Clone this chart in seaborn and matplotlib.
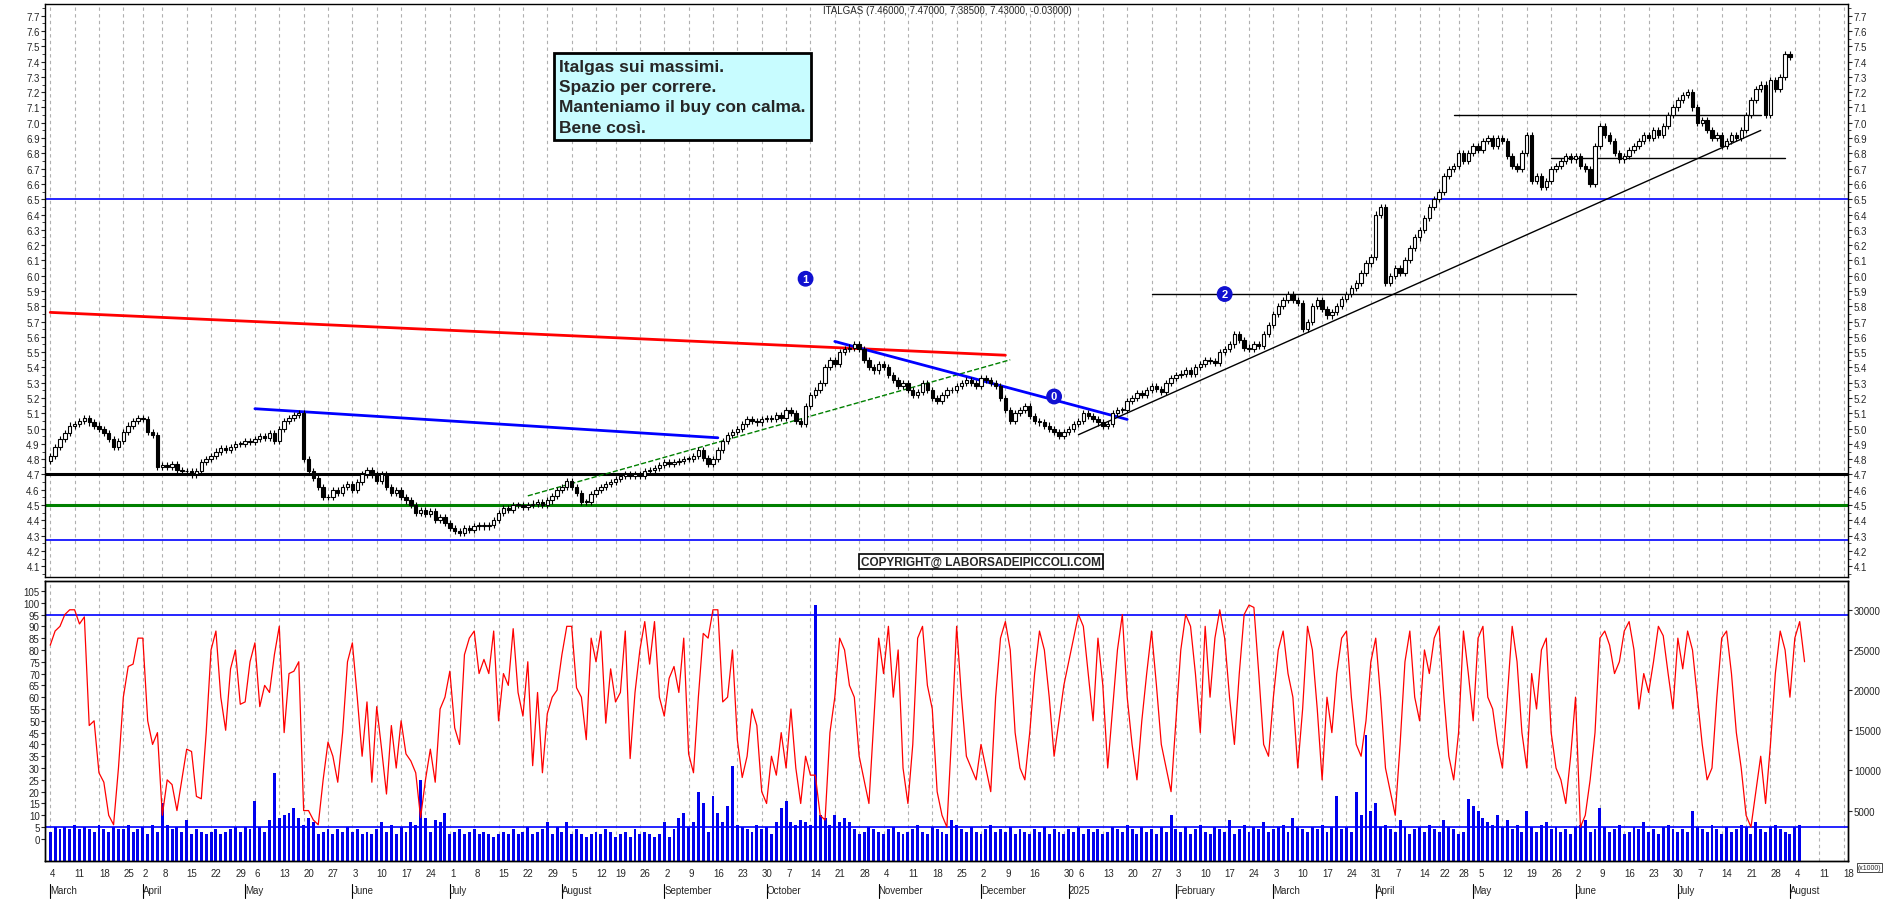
import numpy as np
import pandas as pd
import matplotlib
matplotlib.use("Agg")
import matplotlib.pyplot as plt
import seaborn as sns

# ---------------- data ----------------
close = [
 4.82,4.88,4.93,4.97,5.02, 5.03,5.05,5.07,5.04,5.02, 5.00,4.97,4.93,4.88,4.92, 4.98,5.02,5.05,5.07,5.06,
 4.98,4.96,4.75,4.76, 4.75,4.77,4.73,4.72,4.72, 4.70,4.72,4.78,4.80,4.82, 4.85,4.87,4.86,4.88,4.90,
 4.90,4.92,4.91,4.93,4.95, 4.94,4.97,4.92,5.00,5.05, 5.07,5.09,5.10,4.80,4.72, 4.68,4.62,4.55,4.55,4.60,
 4.58,4.62,4.64,4.60,4.65, 4.70,4.73,4.70,4.66,4.70, 4.62,4.58,4.60,4.55,4.53, 4.50,4.45,4.47,4.44,4.46,
 4.40,4.42,4.38,4.35,4.33, 4.32,4.35,4.34,4.36,4.37, 4.36,4.37,4.40,4.45,4.48, 4.47,4.50,4.50,4.49,4.50,
 4.51,4.52,4.50,4.53,4.56, 4.60,4.62,4.66,4.62,4.58, 4.52,4.52,4.57,4.60,4.62, 4.64,4.65,4.67,4.69,4.70,
 4.69,4.70,4.69,4.72,4.73, 4.74,4.76,4.78,4.77,4.78, 4.79,4.80,4.80,4.82,4.86, 4.81,4.77,4.80,4.86,4.92,
 4.96,4.98,5.00,5.03,5.06, 5.05,5.04,5.06,5.07,5.06, 5.09,5.07,5.12,5.10,5.05, 5.03,5.15,5.22,5.25,5.30,
 5.40,5.45,5.42,5.50,5.52, 5.53,5.55,5.52,5.45,5.40, 5.38,5.42,5.40,5.35,5.32, 5.28,5.30,5.25,5.22,5.24,
 5.30,5.25,5.20,5.18,5.22, 5.25,5.25,5.28,5.30,5.32, 5.30,5.28,5.33,5.32,5.30, 5.28,5.20,5.12,5.05,5.10,
 5.12,5.15,5.08,5.05,5.04, 5.02,5.00,4.98,4.95,4.98, 5.00,5.03,5.05,5.10,5.08, 5.06,5.04,5.02,
 5.03,5.10,5.12,5.12,5.18, 5.20,5.23,5.22,5.25,5.28, 5.26,5.24,5.30,5.33,5.35, 5.36,5.38,5.36,5.40,5.42,
 5.45,5.44,5.43,5.50,5.52, 5.55,5.62,5.58,5.53,5.52, 5.55,5.54,5.62, 5.68,5.75,5.80,5.84,5.88,
 5.84,5.82,5.65,5.70,5.80, 5.84,5.78,5.74,5.76,5.80, 5.85,5.88,5.92,5.95,6.02, 6.08,6.12,6.40,6.45,5.95,
 6.00,6.05,6.02,6.10,6.18, 6.25,6.30,6.38,6.45,6.50, 6.55,6.65,6.70,6.72,6.80, 6.75,6.80,6.85,6.82,6.88,
 6.90,6.85,6.90,6.88,6.78, 6.72,6.70,6.80,6.92,6.62, 6.65,6.58,6.62,6.70,6.72, 6.75,6.78,6.76,6.78,6.72,
 6.70,6.60,6.85,6.98,6.92, 6.88,6.80,6.76,6.78,6.82, 6.85,6.88,6.92,6.90,6.95, 6.92,6.98,7.05,7.10,7.15,
 7.18,7.20,7.10,7.00,7.02, 6.95,6.90,6.92,6.85,6.88, 6.92,6.90,6.95,7.05,7.15, 7.22,7.25,7.05,7.28,7.22,
 7.30,7.45,7.43,
]
osc = [
 82,88,90,95,97, 97,91,94,48,50, 28,24,10,6,30, 60,73,74,85,85, 50,40,45,10,25, 23,12,25,38,37,
 18,17,45,80,88, 60,46,72,80,57, 58,75,83,56,65, 62,78,90,45,70, 71,75,12,12,8, 6,25,41,35,24,
 45,75,83,60,35, 58,24,56,38,19, 48,30,50,36,33, 28,9,25,38,24, 55,60,71,47,40, 78,85,88,70,76,
 70,88,50,70,65, 89,62,52,75,31, 62,28,53,60,63, 78,90,90,64,60, 42,85,75,88,49, 72,58,62,88,34,
 62,80,92,74,92, 60,52,68,73,62, 85,36,28,60,87, 85,97,97,58,60, 80,42,26,35,55, 48,20,15,35,27,
 45,30,55,30,15, 35,27,27,10,8, 45,60,85,80,65, 60,35,25,15,50, 85,70,90,60,80, 30,15,40,85,90,
 65,55,20,10,5, 45,90,60,35,30, 25,40,30,20,60, 85,92,80,45,30, 25,45,70,88,80, 60,35,50,65,75,
 85,95,90,70,50, 85,65,30,55,80, 95,60,40,25,50, 70,88,65,40,30, 20,50,80,95,90, 70,45,90,60,85,
 97,85,60,40,70, 95,99,98,70,40, 35,60,80,88,70, 60,30,55,90,80, 55,25,60,45,70, 85,88,60,40,35,
 50,75,85,60,30, 20,10,40,75,88, 60,50,80,70,85, 90,60,35,25,45, 88,70,50,85,90, 60,55,40,30,60,
 90,75,45,30,70, 55,80,85,45,30, 25,15,35,60,5, 10,25,45,85,88, 82,70,75,88,92, 80,55,70,62,75,
 90,86,70,55,85, 72,88,80,60, 40,25,30,60,85, 88,70,45,30,10, 5,20,35,15,40, 70,88,80,60,85,
 92,75,
]
vol = [
 3,5,4,5,4, 6,4,5,4,3, 6,4,3,5,4, 4,6,3,4,5, 2,6,3,15,6, 4,5,3,8,2, 4,3,2,3,4, 2,3,4,5,3,
 5,4,16,5,3, 8,28,9,10,11, 13,9,6,9,7, 2,3,4,2,4, 3,5,3,4,2, 3,2,4,7,3, 6,2,5,3,7, 6,25,9,3,8,
 7,11,2,3,4, 2,3,4,2,3, 2,1,2,3,2, 4,2,3,5,2, 3,4,7,2,5, 3,7,2,4,2, 1,2,3,2,4, 3,1,2,3,1,
 4,2,3,2,1, 2,7,1,4,9, 11,5,7,20,15, 3,18,11,7,14, 31,6,5,4,3, 6,4,5,2,7, 13,16,7,6,8, 7,6,99,10,9,
 6,10,7,9,7, 4,2,3,5,4, 3,2,4,5,3, 2,3,4,6,3, 2,5,4,3,2, 8,6,4,3,5, 3,2,4,6,3, 4,3,5,2,4,
 3,2,4,3,5, 2,4,3,2,4, 3,5,2,4,3, 4,2,3,5,4, 3,6,4,2,5, 3,4,2,5,3, 10,4,3,5,2, 4,6,3,2,5,
 4,3,8,2,4, 6,3,5,4,7, 3,4,5,6,3, 9,5,4,3,5, 4,6,3,5,18, 4,5,3,20,10, 44,12,15,5,6, 4,3,8,5,2,
 4,5,3,6,4, 3,8,5,4,2, 3,17,14,12,9, 7,6,10,5,8, 4,6,3,12,5, 3,6,7,4,5, 3,4,2,5,6, 8,3,4,13,5,
 3,4,6,2,3, 5,4,7,3,4, 2,5,6,4,3, 4,3,12,5,4, 3,6,4,2,5, 3,4,6,5,2, 7,4,3,5,6, 4,3,2,5,6,
]
holidays = ["2024-03-29", "2024-04-01", "2024-05-01", "2024-08-15", "2024-12-24", "2024-12-25",
            "2024-12-26", "2024-12-31", "2025-01-01", "2025-04-18", "2025-04-21", "2025-05-01"]
ticker_title = "ITALGAS (7.46000, 7.47000, 7.38500, 7.43000, -0.03000)"
comment_lines = ["Italgas sui massimi.", "Spazio per correre.", "Manteniamo il buy con calma.", "Bene così."]
copyright_text = "COPYRIGHT@ LABORSADEIPICCOLI.COM"
hlines_price = [(6.5, "blue", 1.2), (4.7, "black", 2.2), (4.5, "green", 2.2), (4.27, "blue", 1.2)]
trend_lines = [
 ("2024-03-04", 5.76, "2024-12-09", 5.48, "red", 2.0, "-"),
 ("2024-05-06", 5.13, "2024-09-17", 4.94, "blue", 2.0, "-"),
 ("2024-07-23", 4.56, "2024-12-10", 5.45, "green", 1.0, "--"),
 ("2024-10-21", 5.57, "2025-01-20", 5.06, "blue", 2.0, "-"),
 ("2025-01-06", 4.96, "2025-07-24", 6.95, "black", 1.0, "-"),
 ("2025-01-27", 5.88, "2025-06-02", 5.88, "black", 1.0, "-"),
 ("2025-04-25", 7.05, "2025-07-24", 7.05, "black", 1.0, "-"),
 ("2025-05-26", 6.77, "2025-07-31", 6.77, "black", 1.0, "-"),
]
markers = [("2024-10-11", 5.98, "1"), ("2025-02-17", 5.88, "2"), ("2024-12-23", 5.21, "0")]

# ---------------- layout ----------------
sns.set_style("white")
plt.rcParams["font.family"] = "Liberation Sans"
N = len(close)
dates = pd.bdate_range("2024-03-04", "2025-08-22", freq="C", holidays=holidays)
xi = np.arange(N)
def idx(d):
    return int(np.searchsorted(dates, pd.Timestamp(d)))

fig = plt.figure(figsize=(18.9, 9.03), dpi=100)
L, R = 0.024, 0.978
ax = fig.add_axes([L, 0.36, R - L, 0.635])
ax2 = fig.add_axes([L, 0.045, R - L, 0.31], sharex=ax)

c = np.array(close)
o = np.concatenate([[c[0] - 0.03], c[:-1]])
hi = np.maximum(o, c) + 0.02
lo = np.minimum(o, c) - 0.02
ax.vlines(xi, lo, hi, color="black", lw=0.8, zorder=3)
up = c >= o
body = np.where(np.abs(c - o) < 0.005, 0.005, np.abs(c - o))
ax.bar(xi[up], body[up], bottom=np.minimum(o, c)[up], width=0.7, color="white", edgecolor="black", lw=0.8, zorder=4)
ax.bar(xi[~up], body[~up], bottom=np.minimum(o, c)[~up], width=0.7, color="black", edgecolor="black", lw=0.8, zorder=4)

for y, col, w in hlines_price:
    ax.axhline(y, color=col, lw=w, zorder=2)
for d0, p0, d1, p1, col, w, ls in trend_lines:
    ax.plot([idx(d0), idx(d1)], [p0, p1], color=col, lw=w, ls=ls, zorder=2)
for d, p, t in markers:
    ax.text(idx(d), p, t, ha="center", va="center", color="white", fontsize=8, fontweight="bold",
            bbox=dict(boxstyle="circle,pad=0.2", fc="#1010d0", ec="#1010d0"), zorder=6)

ax.set_ylim(4.03, 7.78)
yt = np.round(np.arange(4.1, 7.75, 0.1), 1)
ax.set_yticks(yt)
ax.set_yticklabels([f"{v:.1f}" for v in yt], fontsize=7)
ax.tick_params(axis="y", left=True, right=True, labelright=True, length=3, pad=1)
ax.set_yticks(np.arange(4.05, 7.78, 0.05), minor=True)
ax.tick_params(axis="y", which="minor", left=True, right=True, length=2)
ax.text(0.5, 0.997, ticker_title, transform=ax.transAxes, ha="center", va="top", fontsize=7)
fig.text(0.296, 0.934, "\n".join(comment_lines), ha="left", va="top", fontsize=12.5, fontweight="bold",
         linespacing=1.45,
         bbox=dict(boxstyle="square,pad=0.3", fc="#c8fcff", ec="black", lw=2))
ax.text(idx("2024-12-02"), 4.13, copyright_text, ha="center", va="center", fontsize=8.5, fontweight="bold",
        bbox=dict(boxstyle="square,pad=0.15", fc="white", ec="black", lw=1.2), zorder=6)

# lower panel
BOT = -9.5
no = len(osc); nv = len(vol)
ax2.bar(np.arange(nv), np.array(vol) - BOT, bottom=BOT, width=0.6, color="#0000ee", lw=0, zorder=2)
sns.lineplot(x=np.arange(no), y=osc, ax=ax2, color="red", lw=0.9, zorder=3)
ax2.axhline(95, color="blue", lw=1.2)
ax2.axhline(5.2, color="blue", lw=1.2)
ax2.set_ylim(BOT, 109)
ax2.set_yticks(np.arange(0, 106, 5))
ax2.set_yticklabels([str(v) for v in range(0, 106, 5)], fontsize=7)
ax2.tick_params(axis="y", length=3, pad=1)
axr = ax2.twinx()
axr.set_ylim(-1320, 33520)
axr.set_yticks(np.arange(5000, 30001, 5000))
axr.set_yticklabels([str(v) for v in range(5000, 30001, 5000)], fontsize=7)
axr.tick_params(axis="y", length=3, pad=1)
axr.text(1.005, -0.01, "(x1000)", transform=ax2.transAxes, fontsize=5, ha="left", va="top",
         bbox=dict(boxstyle="square,pad=0.1", fc="white", ec="black", lw=0.5))

# x axis
mons = [0] + [i for i in range(1, len(dates)) if dates[i].weekday() < dates[i - 1].weekday()]
ax2.set_xticks(mons)
labels = []
for k, m in enumerate(mons):
    short = k + 1 < len(mons) and mons[k + 1] - m < 3
    labels.append("" if short else str(dates[m].day))
ax2.set_xticklabels(labels, fontsize=7, ha="left")
ax2.tick_params(axis="x", length=4, pad=1)
ax2.xaxis.set_minor_locator(matplotlib.ticker.NullLocator())
for a in (ax, ax2):
    a.grid(axis="x", which="major", color="#b0b0b0", ls=(0, (3, 3)), lw=0.8)
    a.set_axisbelow(True)
plt.setp(ax.get_xticklabels(), visible=False)
ax.tick_params(axis="x", length=0)
months = [i for i in range(1, len(dates)) if dates[i].month != dates[i - 1].month]
for m in [0] + months:
    lab = "2025" if dates[m].year == 2025 and dates[m].month == 1 else dates[m].strftime("%B")
    if m == 0:
        lab = "March"
    ax2.text(m, -0.085, lab, transform=ax2.get_xaxis_transform(), fontsize=7, ha="left", va="top")
    ax2.plot([m, m], [-0.08, -0.13], transform=ax2.get_xaxis_transform(), color="black", lw=0.8, clip_on=False)
ax.set_xlim(-1, idx("2025-08-19"))
for a in (ax, ax2, axr):
    for s in a.spines.values():
        s.set_color("black"); s.set_linewidth(1)

fig.savefig("out.png", dpi=100)
